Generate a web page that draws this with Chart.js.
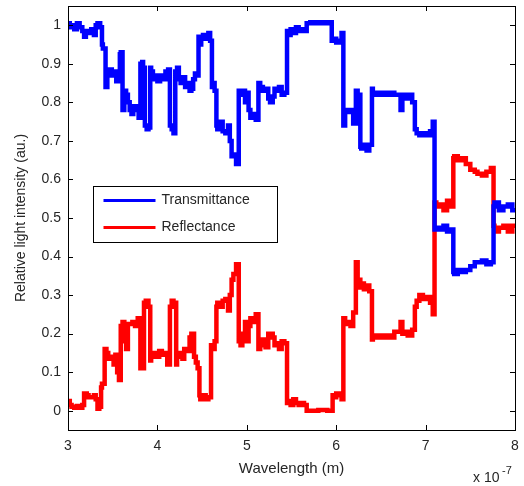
<!DOCTYPE html>
<html>
<head>
<meta charset="utf-8">
<script src="https://cdn.jsdelivr.net/npm/chart.js@4.4.1/dist/chart.umd.min.js"></script>
<style>
  html, body { margin: 0; padding: 0; background: #fff; }
  #wrap { width: 524px; height: 486px; }
</style>
</head>
<body>
<div id="wrap"><canvas id="c" width="524" height="486"></canvas></div>
<script>
// wavelength in units of 1e-7 m, intensity in a.u.
const transmittance = [
  [3.00,0.99],[3.02,1.005],[3.04,0.995],[3.07,1.00],[3.10,0.99],[3.13,1.005],[3.16,0.995],[3.18,0.985],
  [3.20,0.97],[3.23,0.985],[3.26,0.98],[3.29,0.99],[3.31,0.975],[3.33,1.00],[3.36,1.005],[3.38,0.995],
  [3.39,0.95],[3.42,0.94],[3.44,0.84],[3.46,0.875],[3.49,0.885],[3.52,0.87],[3.54,0.88],[3.56,0.855],
  [3.58,0.87],[3.59,0.925],[3.61,0.93],[3.63,0.78],[3.65,0.83],[3.67,0.82],[3.69,0.80],[3.71,0.78],
  [3.73,0.77],[3.76,0.79],[3.79,0.78],[3.81,0.76],[3.83,0.90],[3.84,0.905],[3.86,0.89],[3.88,0.74],
  [3.90,0.73],[3.92,0.735],[3.93,0.89],[3.95,0.88],[3.97,0.86],[4.00,0.87],[4.03,0.855],[4.06,0.87],
  [4.09,0.86],[4.12,0.88],[4.14,0.885],[4.16,0.74],[4.18,0.73],[4.20,0.72],[4.22,0.88],[4.24,0.89],
  [4.26,0.86],[4.28,0.85],[4.31,0.865],[4.33,0.84],[4.36,0.85],[4.38,0.83],[4.40,0.835],[4.42,0.86],
  [4.44,0.875],[4.46,0.87],[4.48,0.97],[4.49,0.95],[4.51,0.97],[4.54,0.975],[4.57,0.965],[4.59,0.98],
  [4.61,0.96],[4.62,0.84],[4.64,0.85],[4.66,0.83],[4.67,0.74],[4.70,0.73],[4.73,0.75],[4.76,0.725],
  [4.79,0.72],[4.81,0.74],[4.83,0.70],[4.85,0.66],[4.88,0.665],[4.91,0.64],[4.93,0.83],[4.96,0.82],
  [4.98,0.83],[5.00,0.80],[5.02,0.825],[5.04,0.78],[5.07,0.76],[5.10,0.77],[5.13,0.755],[5.15,0.85],
  [5.18,0.84],[5.21,0.83],[5.24,0.835],[5.26,0.81],[5.29,0.80],[5.31,0.815],[5.33,0.835],[5.36,0.83],
  [5.39,0.84],[5.42,0.82],[5.45,0.825],[5.46,0.985],[5.49,0.975],[5.52,0.99],[5.55,0.98],[5.58,0.995],
  [5.61,0.985],[5.64,0.99],[5.67,0.985],[5.71,1.005],[5.75,1.008],[5.80,1.005],[5.85,1.008],[5.90,1.005],
  [5.95,1.008],[5.97,0.96],[6.00,0.965],[6.03,0.955],[6.06,0.96],[6.08,0.98],[6.10,0.74],[6.13,0.78],
  [6.16,0.775],[6.19,0.78],[6.22,0.745],[6.24,0.83],[6.27,0.82],[6.28,0.685],[6.31,0.68],[6.34,0.69],
  [6.37,0.675],[6.40,0.69],[6.41,0.835],[6.45,0.825],[6.50,0.82],[6.55,0.825],[6.60,0.82],[6.65,0.825],
  [6.72,0.82],[6.74,0.78],[6.76,0.82],[6.80,0.81],[6.85,0.82],[6.88,0.80],[6.90,0.73],[6.93,0.72],
  [6.97,0.715],[7.01,0.72],[7.05,0.715],[7.08,0.725],[7.10,0.75],[7.12,0.47],[7.15,0.475],[7.20,0.47],
  [7.24,0.48],[7.28,0.465],[7.31,0.47],[7.32,0.36],[7.36,0.355],[7.40,0.365],[7.45,0.36],[7.50,0.365],
  [7.55,0.375],[7.58,0.385],[7.63,0.385],[7.68,0.39],[7.73,0.38],[7.76,0.385],[7.77,0.53],[7.82,0.54],
  [7.87,0.52],[7.92,0.53],[7.97,0.535],[8.00,0.52]
];

const reflectance = [
  [3.00,0.02],[3.02,0.025],[3.04,0.015],[3.07,0.01],[3.10,0.008],[3.13,0.012],[3.16,0.008],[3.18,0.015],
  [3.21,0.045],[3.23,0.04],[3.26,0.035],[3.29,0.035],[3.31,0.04],[3.33,0.03],[3.35,0.005],[3.37,0.01],
  [3.38,0.06],[3.41,0.07],[3.43,0.16],[3.45,0.15],[3.48,0.135],[3.51,0.14],[3.53,0.12],[3.55,0.145],
  [3.57,0.10],[3.59,0.08],[3.61,0.22],[3.63,0.23],[3.65,0.18],[3.67,0.16],[3.69,0.225],[3.72,0.225],
  [3.75,0.23],[3.78,0.22],[3.81,0.24],[3.83,0.11],[3.85,0.11],[3.87,0.28],[3.90,0.285],[3.92,0.27],
  [3.93,0.13],[3.96,0.14],[3.99,0.15],[4.02,0.14],[4.05,0.155],[4.08,0.145],[4.11,0.15],[4.14,0.12],
  [4.16,0.27],[4.18,0.285],[4.21,0.28],[4.22,0.12],[4.25,0.14],[4.28,0.15],[4.30,0.135],[4.33,0.16],
  [4.36,0.155],[4.38,0.19],[4.41,0.20],[4.43,0.14],[4.45,0.125],[4.47,0.11],[4.48,0.04],[4.51,0.03],
  [4.54,0.04],[4.57,0.03],[4.60,0.035],[4.62,0.17],[4.64,0.16],[4.66,0.18],[4.67,0.27],[4.70,0.28],
  [4.73,0.27],[4.76,0.285],[4.79,0.29],[4.81,0.26],[4.83,0.30],[4.85,0.34],[4.88,0.355],[4.91,0.38],
  [4.93,0.18],[4.95,0.17],[4.98,0.20],[5.00,0.23],[5.02,0.18],[5.04,0.22],[5.07,0.24],[5.10,0.23],
  [5.13,0.25],[5.15,0.16],[5.18,0.17],[5.21,0.185],[5.24,0.165],[5.26,0.20],[5.29,0.20],[5.31,0.19],
  [5.33,0.17],[5.36,0.175],[5.39,0.16],[5.42,0.18],[5.45,0.175],[5.46,0.02],[5.49,0.025],[5.52,0.015],
  [5.55,0.03],[5.58,0.02],[5.61,0.015],[5.64,0.02],[5.67,0.015],[5.71,0.0],[5.80,0.0],[5.90,0.002],
  [5.96,0.0],[5.97,0.04],[6.00,0.035],[6.03,0.045],[6.06,0.04],[6.08,0.03],[6.10,0.24],[6.13,0.225],
  [6.16,0.23],[6.19,0.22],[6.22,0.255],[6.24,0.385],[6.27,0.34],[6.28,0.32],[6.31,0.33],[6.34,0.315],
  [6.37,0.325],[6.40,0.31],[6.41,0.185],[6.45,0.19],[6.50,0.195],[6.55,0.19],[6.60,0.195],[6.65,0.19],
  [6.72,0.205],[6.74,0.23],[6.76,0.20],[6.80,0.205],[6.85,0.195],[6.88,0.21],[6.90,0.27],[6.93,0.285],
  [6.97,0.30],[7.01,0.29],[7.05,0.295],[7.08,0.28],[7.10,0.25],[7.12,0.54],[7.15,0.53],[7.20,0.535],
  [7.24,0.52],[7.28,0.545],[7.31,0.53],[7.32,0.655],[7.36,0.66],[7.40,0.65],[7.45,0.655],[7.50,0.64],
  [7.55,0.625],[7.58,0.62],[7.63,0.615],[7.68,0.61],[7.73,0.62],[7.76,0.63],[7.77,0.48],[7.82,0.465],
  [7.87,0.475],[7.92,0.48],[7.97,0.465],[8.00,0.48]
];

const seriesNames = ['Transmittance', 'Reflectance'];
const seriesColors = ['#0000ff', '#ff0000'];
const xTicks = [3, 4, 5, 6, 7, 8];
const yTicks = [0, 0.1, 0.2, 0.3, 0.4, 0.5, 0.6, 0.7, 0.8, 0.9, 1];

const FONT = 'Liberation Sans, Arial, sans-serif';
const TXT = '#262626';

// matlab style box, inward ticks, legend and exponent label
const matlabAxes = {
  id: 'matlabAxes',
  afterDraw(chart) {
    const { ctx, chartArea: a, scales } = chart;
    ctx.save();
    ctx.strokeStyle = '#000';
    ctx.lineWidth = 1;
    ctx.beginPath();
    xTicks.forEach(v => {
      const x = Math.round(scales.x.getPixelForValue(v)) + 0.5;
      ctx.moveTo(x, a.bottom); ctx.lineTo(x, a.bottom - 5);
      ctx.moveTo(x, a.top); ctx.lineTo(x, a.top + 5);
    });
    yTicks.forEach(v => {
      const y = Math.round(scales.y.getPixelForValue(v)) + 0.5;
      ctx.moveTo(a.left, y); ctx.lineTo(a.left + 5, y);
      ctx.moveTo(a.right, y); ctx.lineTo(a.right - 5, y);
    });
    ctx.stroke();
    ctx.strokeRect(Math.round(a.left) + 0.5, Math.round(a.top) + 0.5,
      Math.round(a.right - a.left), Math.round(a.bottom - a.top));

    // legend box
    const lx = 93.5, ly = 186.5, lw = 184, lh = 56;
    ctx.fillStyle = '#fff';
    ctx.fillRect(lx, ly, lw, lh);
    ctx.strokeRect(lx, ly, lw, lh);
    ctx.font = '14px ' + FONT;
    ctx.textBaseline = 'middle';
    chart.data.datasets.forEach((ds, i) => {
      const yy = ly + 14 + i * 27;
      ctx.strokeStyle = ds.borderColor;
      ctx.lineWidth = 3;
      ctx.beginPath();
      ctx.moveTo(lx + 10, yy); ctx.lineTo(lx + 62, yy);
      ctx.stroke();
      ctx.fillStyle = TXT;
      ctx.fillText(ds.label, lx + 68, yy);
    });

    // x 10^-7
    ctx.fillStyle = TXT;
    ctx.font = '14px ' + FONT;
    ctx.textBaseline = 'alphabetic';
    ctx.fillText('x 10', 473, 482);
    ctx.font = '11px ' + FONT;
    ctx.fillText('-7', 502, 474);
    ctx.restore();
  }
};

new Chart(document.getElementById('c'), {
  type: 'line',
  data: {
    datasets: [transmittance, reflectance].map((s, i) => ({
      label: seriesNames[i],
      data: s.map(p => ({ x: p[0], y: p[1] })),
      borderColor: seriesColors[i],
      backgroundColor: seriesColors[i],
      borderWidth: 4.5,
      pointRadius: 0,
      stepped: 'after',
      fill: false
    }))
  },
  options: {
    responsive: false,
    animation: false,
    layout: { padding: { left: 0, right: 9, top: 6, bottom: 0 } },
    plugins: { legend: { display: false }, tooltip: { enabled: false } },
    scales: {
      x: {
        type: 'linear', min: 3, max: 8,
        afterBuildTicks: s => { s.ticks = xTicks.map(v => ({ value: v })); },
        afterFit: s => { s.height = 56; s.paddingLeft = 0; s.paddingRight = 0; },
        grid: { display: false, drawTicks: false },
        border: { display: false },
        ticks: { padding: 8, color: TXT, font: { family: FONT, size: 14 } },
        title: { display: true, text: 'Wavelength (m)', color: TXT, font: { family: FONT, size: 15 }, padding: { top: 0, bottom: 8 } }
      },
      y: {
        min: -0.05, max: 1.05,
        afterBuildTicks: s => { s.ticks = yTicks.map(v => ({ value: v })); },
        afterFit: s => { s.width = 68; s.paddingTop = 0; s.paddingBottom = 0; },
        grid: { display: false, drawTicks: false },
        border: { display: false },
        ticks: { padding: 7, color: TXT, font: { family: FONT, size: 14 }, callback: v => String(Math.round(v * 10) / 10) },
        title: { display: true, text: 'Relative light intensity (au.)', color: TXT, font: { family: FONT, size: 14 }, padding: { top: 13, bottom: 0 } }
      }
    }
  },
  plugins: [matlabAxes]
});
</script>
</body>
</html>
